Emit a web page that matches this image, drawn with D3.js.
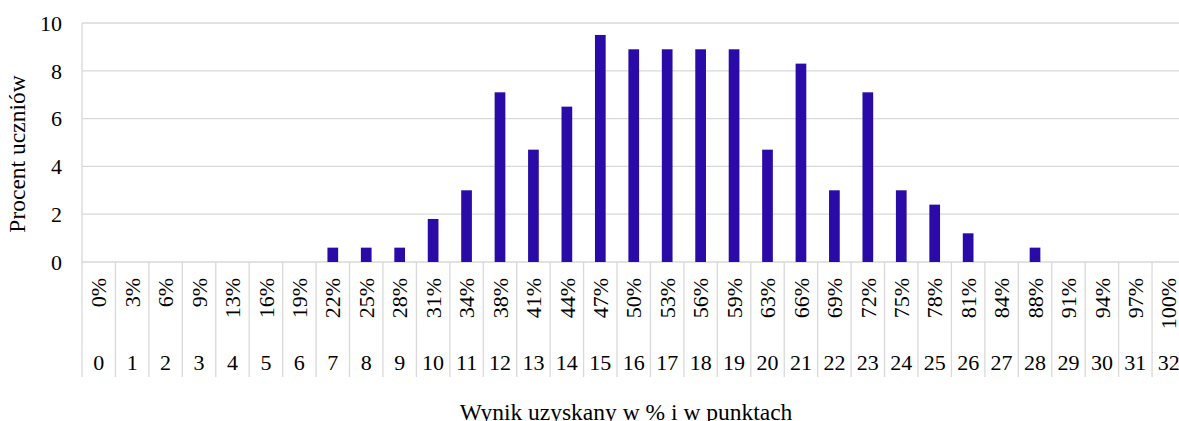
<!DOCTYPE html>
<html>
<head>
<meta charset="utf-8">
<script src="https://cdn.jsdelivr.net/npm/d3@7"></script>
<style>
  body { margin: 0; background: #fff; }
  svg { display: block; font-family: "Liberation Serif", "Times New Roman", serif; }
</style>
</head>
<body>
<div id="chart"></div>
<script>
// points 0..32 and matching percent labels
const points = d3.range(0, 33).map(String);
const percents = ["0%","3%","6%","9%","13%","16%","19%","22%","25%","28%","31%","34%","38%","41%","44%","47%",
                  "50%","53%","56%","59%","63%","66%","69%","72%","75%","78%","81%","84%","88%","91%","94%","97%","100%"];
const values = [0,0,0,0,0,0,0,0.6,0.6,0.6,1.8,3.0,7.1,4.7,6.5,9.5,
                8.9,8.9,8.9,8.9,4.7,8.3,3.0,7.1,3.0,2.4,1.2,0,0.6,0,0,0,0];
const yTicks = [0, 2, 4, 6, 8, 10];

const W = 1179, H = 421;
const margin = {top: 23, left: 82};
const plotW = 1103.5, plotH = 239;

const svg = d3.select("#chart").append("svg")
    .attr("width", W)
    .attr("height", H);

const x = d3.scaleBand().domain(points).range([margin.left, margin.left + plotW]);
const y = d3.scaleLinear().domain([0, 10]).range([margin.top + plotH, margin.top]);

const grid = "#d9d9d9";

// horizontal gridlines
svg.append("g").selectAll("line")
    .data(yTicks)
  .enter().append("line")
    .attr("x1", margin.left).attr("x2", margin.left + plotW)
    .attr("y1", d => y(d)).attr("y2", d => y(d))
    .attr("stroke", grid).attr("stroke-width", 1.3);

// left border
svg.append("line")
    .attr("x1", margin.left).attr("x2", margin.left)
    .attr("y1", y(10)).attr("y2", y(0))
    .attr("stroke", grid).attr("stroke-width", 1.3);

// y tick labels
svg.append("g").selectAll("text")
    .data(yTicks)
  .enter().append("text")
    .attr("x", 62)
    .attr("y", d => y(d))
    .attr("dy", "0.35em")
    .attr("text-anchor", "end")
    .attr("font-size", 22)
    .text(d => d);

// category separators (two-level axis)
const bottom = 377;
svg.append("g").selectAll("line")
    .data(d3.range(0, 34))
  .enter().append("line")
    .attr("x1", i => margin.left + i * x.step())
    .attr("x2", i => margin.left + i * x.step())
    .attr("y1", y(0)).attr("y2", bottom)
    .attr("stroke", grid).attr("stroke-width", 1.3);

// bars
const bw = x.bandwidth() * 0.32;
svg.append("g").selectAll("rect")
    .data(values)
  .enter().append("rect")
    .attr("x", (d, i) => x(points[i]) + x.bandwidth() / 2 - bw / 2)
    .attr("y", d => y(d))
    .attr("width", bw)
    .attr("height", d => y(0) - y(d))
    .attr("fill", "#2a0ba8");

// percent labels (rotated)
svg.append("g").selectAll("text")
    .data(percents)
  .enter().append("text")
    .attr("transform", (d, i) => `translate(${x(points[i]) + x.bandwidth() / 2},278) rotate(-90)`)
    .attr("text-anchor", "end")
    .attr("dy", "0.35em")
    .attr("font-size", 22)
    .text(d => d);

// point labels
svg.append("g").selectAll("text")
    .data(points)
  .enter().append("text")
    .attr("x", d => x(d) + x.bandwidth() / 2)
    .attr("y", 370)
    .attr("text-anchor", "middle")
    .attr("font-size", 22)
    .text(d => d);

// axis titles
svg.append("text")
    .attr("transform", "translate(25,154) rotate(-90)")
    .attr("text-anchor", "middle")
    .attr("font-size", 23.5)
    .text("Procent uczniów");

svg.append("text")
    .attr("x", 626)
    .attr("y", 420)
    .attr("text-anchor", "middle")
    .attr("font-size", 23.5)
    .text("Wynik uzyskany w % i w punktach");
</script>
</body>
</html>
